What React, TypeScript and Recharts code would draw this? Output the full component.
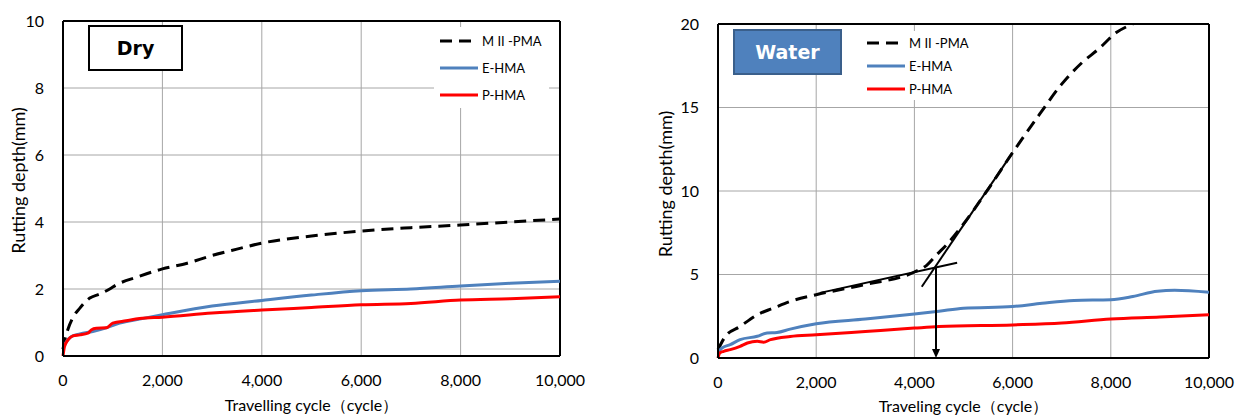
import { CartesianGrid, Legend, Line, LineChart, ReferenceDot, ReferenceLine, XAxis, YAxis } from "recharts";

// axis ticks
const cycleTicks = [0, 2000, 4000, 6000, 8000, 10000];
const dryDepthTicks = [0, 2, 4, 6, 8, 10];
const waterDepthTicks = [0, 5, 10, 15, 20];

const seriesNames = ["M II -PMA", "E-HMA", "P-HMA"];
const seriesColors = ["#000000", "#4F81BD", "#FF0000"];
const seriesDash = ["12 7", undefined, undefined];

// Dry condition
const dryPmaCycles = [0, 40, 100, 200, 340, 540, 740, 940, 1070, 1500, 2000, 2500, 3000, 3500, 4000, 5000, 6000, 7000, 8000, 9000, 10000];
const dryPmaDepth = [0.2, 0.5, 0.8, 1.15, 1.43, 1.73, 1.85, 2.0, 2.12, 2.36, 2.6, 2.77, 3.0, 3.19, 3.37, 3.58, 3.73, 3.83, 3.91, 4.0, 4.09];
const dryEhmaCycles = [0, 70, 170, 340, 600, 870, 1140, 1540, 2000, 3000, 4000, 5000, 6000, 7000, 8000, 9000, 10000];
const dryEhmaDepth = [0.24, 0.43, 0.58, 0.66, 0.73, 0.84, 0.98, 1.1, 1.23, 1.49, 1.66, 1.82, 1.95, 2.0, 2.09, 2.17, 2.23];
const dryPhmaCycles = [0, 30, 100, 200, 340, 500, 570, 670, 870, 1000, 1270, 1540, 2000, 3000, 4000, 5000, 6000, 7000, 8000, 9000, 10000];
const dryPhmaDepth = [0, 0.28, 0.48, 0.6, 0.63, 0.68, 0.78, 0.83, 0.84, 0.98, 1.05, 1.12, 1.16, 1.28, 1.37, 1.45, 1.53, 1.57, 1.67, 1.71, 1.77];

// Water condition
const wetPmaCycles = [0, 150, 450, 800, 1130, 1470, 2000, 3000, 4000, 4250, 4460, 4660, 4940, 5500, 6000, 6550, 7000, 7400, 7750, 8120, 8450];
const wetPmaDepth = [0.5, 1.29, 1.89, 2.59, 2.99, 3.39, 3.79, 4.4, 5.15, 5.55, 6.2, 6.8, 7.8, 10.1, 12.3, 14.6, 16.4, 17.65, 18.5, 19.5, 20.0];
const wetEhmaCycles = [0, 80, 250, 450, 800, 1000, 1200, 1470, 2000, 3000, 4000, 4500, 5000, 6000, 6600, 7250, 8000, 8450, 8950, 9300, 10000];
const wetEhmaDepth = [0.34, 0.6, 0.8, 1.1, 1.3, 1.5, 1.53, 1.73, 2.05, 2.33, 2.63, 2.8, 2.98, 3.08, 3.28, 3.45, 3.49, 3.68, 4.0, 4.05, 3.93];
const wetPhmaCycles = [0, 35, 115, 250, 450, 600, 800, 930, 1070, 1470, 2000, 3000, 4000, 4500, 6000, 7000, 8000, 9000, 10000];
const wetPhmaDepth = [0, 0.3, 0.4, 0.5, 0.7, 0.9, 1.0, 0.95, 1.1, 1.29, 1.39, 1.59, 1.79, 1.88, 1.98, 2.09, 2.33, 2.45, 2.59];

// tangent construction on the water curve
const tangentFlat = [{ x: 2080, y: 3.9 }, { x: 4870, y: 5.7 }];
const tangentSteep = [{ x: 4150, y: 4.27 }, { x: 6000, y: 12.3 }];
const onsetCycle = 4440;
const onsetDepth = 5.45;

const pairs = (xs: number[], ys: number[]) => xs.map((x, i) => ({ cycle: x, depth: ys[i] }));

const drySeries = [pairs(dryPmaCycles, dryPmaDepth), pairs(dryEhmaCycles, dryEhmaDepth), pairs(dryPhmaCycles, dryPhmaDepth)];
const wetSeries = [pairs(wetPmaCycles, wetPmaDepth), pairs(wetEhmaCycles, wetEhmaDepth), pairs(wetPhmaCycles, wetPhmaDepth)];

const tickStyle = { fontSize: 16, fill: "#000", fontFamily: "Lato" };
const gridColor = "#A6A6A6";

const yTitle = (text: string, dx: number, dy: number) => (props: any) => {
  const vb = props.viewBox ?? { x: 0, y: 0, width: 0, height: 0 };
  const cx = vb.x + dx;
  const cy = vb.y + vb.height / 2 + dy;
  return (
    <text x={cx} y={cy} transform={`rotate(-90 ${cx} ${cy})`} textAnchor="middle" dominantBaseline="central" fontSize={18} fill="#000" fontFamily="Lato">
      {text}
    </text>
  );
};

const xTitle = (text: string, dy: number) => (props: any) => {
  const vb = props.viewBox ?? { x: 0, y: 0, width: 0, height: 0 };
  return (
    <text x={vb.x + vb.width / 2} y={vb.y + dy} textAnchor="middle" fontSize={16} fill="#000" fontFamily="Lato">
      {text}
    </text>
  );
};

const legendOrder = (item: any) => seriesNames.indexOf(item.value);

const legendContent = (rowHeight: number) => (props: any) => (
  <div style={{ background: "#fff", padding: "0 6px", fontFamily: "Lato", fontSize: 13, color: "#000" }}>
    {[...(props.payload ?? [])].sort((a: any, b: any) => legendOrder(a) - legendOrder(b)).map((entry: any) => (
      <div key={entry.value} style={{ display: "flex", alignItems: "center", height: rowHeight }}>
        <svg width={38} height={6}>
          <line x1={0} y1={3} x2={38} y2={3} stroke={entry.color} strokeWidth={3} strokeDasharray={entry.payload?.strokeDasharray} />
        </svg>
        <span style={{ marginLeft: 4, whiteSpace: "nowrap" }}>{entry.value}</span>
      </div>
    ))}
  </div>
);

const arrowHead = (props: any) => {
  const { cx, cy } = props;
  return <path d={`M${cx},${cy} L${cx - 4},${cy - 9} L${cx + 4},${cy - 9} Z`} fill="#000" />;
};

const fmt = (v: number) => v.toLocaleString("en-US");

export default function App() {
  return (
    <div style={{ position: "fixed", left: 0, top: 0, width: 1235, height: 416, background: "#fff", fontFamily: "Lato" }}>
      {/* Dry */}
      <div style={{ position: "absolute", left: 0, top: 0 }}>
        <LineChart width={600} height={416} margin={{ top: 21, right: 40, bottom: 0, left: 0 }}>
          <CartesianGrid stroke={gridColor} strokeWidth={1} />
          <XAxis type="number" dataKey="cycle" domain={[0, 10000]} ticks={cycleTicks} tickFormatter={fmt} height={60}
            tickLine={false} tickSize={0} tickMargin={19} tick={tickStyle} axisLine={{ stroke: "#000", strokeWidth: 2 }}
            label={xTitle("Travelling cycle（cycle）", 55)} />
          <YAxis type="number" domain={[0, 10]} ticks={dryDepthTicks} width={63} tickLine={false} tickSize={0} tickMargin={19}
            tick={tickStyle} axisLine={{ stroke: "#000", strokeWidth: 2 }} label={yTitle("Rutting depth(mm)", 18, -8)} />
          <ReferenceLine y={10} stroke="#000" strokeWidth={2} />
          <ReferenceLine x={10000} stroke="#000" strokeWidth={2} />
          {drySeries.map((d, i) => (
            <Line key={seriesNames[i]} data={d} dataKey="depth" name={seriesNames[i]} type="monotone" stroke={seriesColors[i]}
              strokeWidth={3} strokeDasharray={seriesDash[i]} dot={false} activeDot={false} isAnimationActive={false} />
          ))}
          <Legend layout="horizontal" verticalAlign="middle" align="center" itemSorter={legendOrder} content={legendContent(27)}
            wrapperStyle={{ left: 434, top: 27, width: 115 }} />
        </LineChart>
        <div style={{ position: "absolute", left: 88, top: 25, width: 91, height: 42, border: "2px solid #000", background: "#fff",
          display: "flex", alignItems: "center", justifyContent: "center", fontFamily: "DejaVu Sans", fontWeight: "bold", fontSize: 19 }}>
          Dry
        </div>
      </div>

      {/* Water */}
      <div style={{ position: "absolute", left: 650, top: 0 }}>
        <LineChart width={585} height={416} margin={{ top: 24, right: 26, bottom: 0, left: 0 }}>
          <CartesianGrid stroke={gridColor} strokeWidth={1} />
          <XAxis type="number" dataKey="cycle" domain={[0, 10000]} ticks={cycleTicks} tickFormatter={fmt} height={58}
            tickLine={false} tickSize={0} tickMargin={19} tick={tickStyle} axisLine={{ stroke: "#000", strokeWidth: 2 }}
            label={xTitle("Traveling cycle（cycle）", 54)} />
          <YAxis type="number" domain={[0, 20]} ticks={waterDepthTicks} width={68} tickLine={false} tickSize={0} tickMargin={19}
            tick={tickStyle} axisLine={{ stroke: "#000", strokeWidth: 2 }} allowDataOverflow label={yTitle("Rutting depth(mm)", 15, -7)} />
          <ReferenceLine y={20} stroke="#000" strokeWidth={2} />
          <ReferenceLine x={10000} stroke="#000" strokeWidth={2} />
          {wetSeries.map((d, i) => (
            <Line key={seriesNames[i]} data={d} dataKey="depth" name={seriesNames[i]} type="monotone" stroke={seriesColors[i]}
              strokeWidth={3} strokeDasharray={seriesDash[i]} dot={false} activeDot={false} isAnimationActive={false} />
          ))}
          <ReferenceLine segment={tangentFlat} stroke="#000" strokeWidth={2} />
          <ReferenceLine segment={tangentSteep} stroke="#000" strokeWidth={2} />
          <ReferenceLine segment={[{ x: onsetCycle, y: onsetDepth }, { x: onsetCycle, y: 0.3 }]} stroke="#000" strokeWidth={2} />
          <ReferenceDot x={onsetCycle} y={0} shape={arrowHead} />
          <Legend layout="horizontal" verticalAlign="middle" align="center" itemSorter={legendOrder} content={legendContent(23)}
            wrapperStyle={{ left: 211, top: 31, width: 115 }} />
        </LineChart>
        <div style={{ position: "absolute", left: 83, top: 29, width: 105, height: 42, border: "2px solid #3A5F8B", background: "#4F81BD",
          display: "flex", alignItems: "center", justifyContent: "center", fontFamily: "DejaVu Sans", fontWeight: "bold", fontSize: 19, color: "#fff" }}>
          Water
        </div>
      </div>
    </div>
  );
}
